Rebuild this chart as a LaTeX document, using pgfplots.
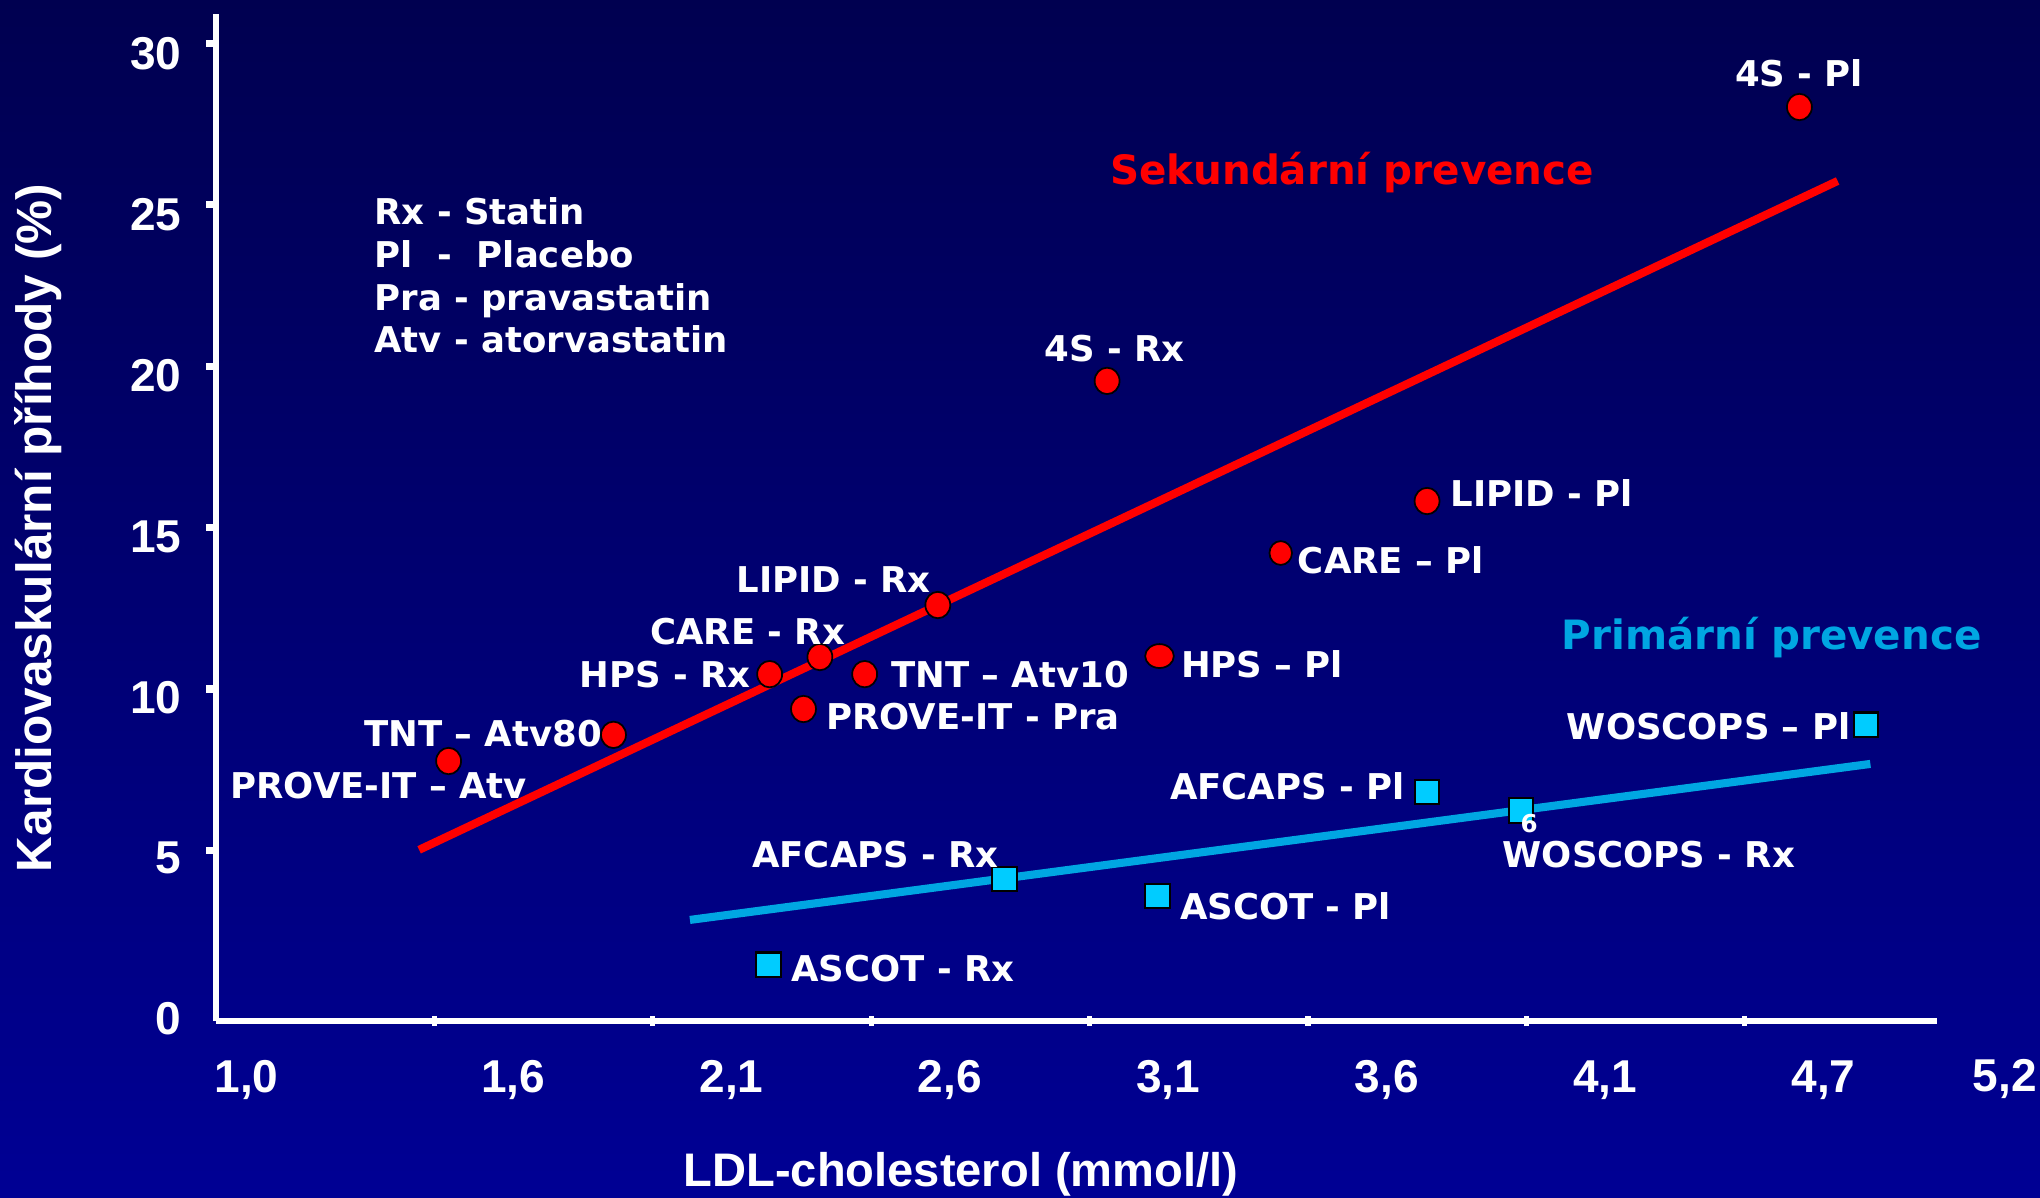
\documentclass[border=0pt]{standalone}
\usepackage{pgfplots}
\pgfplotsset{compat=1.18}
\usepackage{fontspec}
\setmainfont{DejaVu Sans}
\newfontfamily\axisfamily{Liberation Sans}
\usetikzlibrary{shadings}

\definecolor{bgtop}{RGB}{0,0,80}
\definecolor{bgbot}{RGB}{0,0,148}
\definecolor{secred}{RGB}{255,0,0}
\definecolor{primline}{RGB}{0,166,226}
\definecolor{primfill}{RGB}{0,204,255}

\newcommand{\axfont}{\axisfamily\bfseries\fontsize{13.1pt}{15.7pt}\selectfont}
\newcommand{\xlfont}{\axisfamily\bfseries\fontsize{13.4pt}{16pt}\selectfont}
\newcommand{\ylfont}{\axisfamily\bfseries\fontsize{14.1pt}{17pt}\selectfont}
\newcommand{\lbfont}{\bfseries\fontsize{10.1pt}{12.15pt}\selectfont}
\newcommand{\ttlfont}{\bfseries\fontsize{11.5pt}{13.8pt}\selectfont}
\newcommand{\smfont}{\bfseries\fontsize{7pt}{8pt}\selectfont}

% x: LDL in mg/dl (ticks every 20 mg/dl), labelled in mmol/l
% y: cardiovascular events in %
\pgfplotstableread{
x     y
61.3  7.77
76.4  8.58
90.7  10.46
95.3  10.99
93.8  9.38
99.4  10.46
106.1 12.60
121.6 19.54
185.0 28.02
150.9 15.82
}\secondary
\pgfplotstableread{
x     y
90.6  1.46
112.2 4.12
126.2 3.59
150.9 6.81
159.5 6.24
191.1 8.89
}\primary

\begin{document}
\begin{tikzpicture}
\fill[top color=bgtop, bottom color=bgbot] (0,0) rectangle (20.4cm,11.97cm);

\begin{axis}[
  at={(2.16cm,1.76cm)}, anchor=south west,
  scale only axis, width=17.21cm, height=10.07cm,
  xmin=40, xmax=197.6, ymin=-0.28, ymax=30.9,
  clip=false,
  axis x line=bottom, axis y line=left,
  axis line style={white, line width=1.6pt, -},
  xtick={42.8,67.2,87.2,107.2,127.2,147.2,167.2,187.2},
  xticklabels={{1,0},{1,6},{2,1},{2,6},{3,1},{3,6},{4,1},{4,7}},
  ytick={-0.22,4.76,9.74,14.72,19.70,24.68,29.66},
  yticklabels={0,5,10,15,20,25,30},
  major tick length=0pt,
  ticklabel style={font=\axfont, text=white},
  xticklabel style={anchor=base, yshift=-0.71cm},
  yticklabel style={anchor=east, inner sep=0pt, xshift=-0.34cm},
  extra x ticks={60,80,100,120,140,160,180}, extra x tick labels={},
  extra x tick style={major tick length=0.1cm, tick align=center,
    tick style={white, line width=1.5pt}},
  extra y ticks={5,10,15,20,25,30}, extra y tick labels={},
  extra y tick style={major tick length=0.1cm, tick align=outside,
    tick style={white, line width=2pt}},
  xlabel={LDL-cholesterol (mmol/l)},
  xlabel style={font=\xlfont, text=white, at={(axis description cs:0.4329,-0.164)}, anchor=base},
  ylabel={Kardiovaskulární příhody (\%)},
  ylabel style={font=\ylfont, text=white, at={(axis description cs:-0.0953,0.4896)}, anchor=base},
]
% trend lines
\addplot[secred, line width=2.3pt, no marks] coordinates {(58.6,5.02) (188.5,25.73)};
\addplot[primline, line width=2.3pt, no marks] coordinates {(83.4,2.85) (191.5,7.68)};
% secondary prevention trials
\addplot[only marks, mark=*, mark size=3.55pt,
  mark options={fill=secred, draw=black, line width=0.5pt, yscale=1.06}] table {\secondary};
\addplot[only marks, mark=*, mark size=3.2pt,
  mark options={fill=secred, draw=black, line width=0.5pt, yscale=1.06}] coordinates {(137.5,14.21)};
\addplot[only marks, mark=*, mark size=3.4pt,
  mark options={fill=secred, draw=black, line width=0.5pt, xscale=1.2}] coordinates {(126.4,11.02)};
% primary prevention trials
\addplot[only marks, mark=square*, mark size=3.5pt,
  mark options={fill=primfill, draw=black, line width=0.6pt}] table {\primary};
\end{axis}

\begin{scope}[x=0.01cm, y=-0.01cm, shift={(0,11.97cm)}, text=white,
  every node/.append style={inner sep=0pt}]
  \node[font=\axfont, anchor=base] at (2006,1092) {5,2};
  \node[font=\lbfont, anchor=base west, align=left] at (374,353)
    {Rx - Statin\\Pl~~-~~Placebo\\Pra - pravastatin\\Atv - atorvastatin};
  \node[font=\ttlfont, text=secred, anchor=base west] at (1110,185) {Sekundární prevence};
  \node[font=\ttlfont, text=primline, anchor=base west] at (1562,650) {Primární prevence};
  \node[font=\lbfont, anchor=base] at (1800,87) {4S - Pl};
  \node[font=\lbfont, anchor=base] at (1115,362) {4S - Rx};
  \node[font=\lbfont, anchor=base west] at (1451,507) {LIPID - Pl};
  \node[font=\lbfont, anchor=base west] at (1298,574) {CARE – Pl};
  \node[font=\lbfont, anchor=base east] at (932,593) {LIPID - Rx};
  \node[font=\lbfont, anchor=base west] at (650,645) {CARE - Rx};
  \node[font=\lbfont, anchor=base east] at (752,688) {HPS - Rx};
  \node[font=\lbfont, anchor=base west] at (891,688) {TNT – Atv10};
  \node[font=\lbfont, anchor=base west] at (826,730) {PROVE-IT - Pra};
  \node[font=\lbfont, anchor=base west] at (1181,678) {HPS – Pl};
  \node[font=\lbfont, anchor=base east] at (603,747) {TNT – Atv80};
  \node[font=\lbfont, anchor=base west] at (230,799) {PROVE-IT – Atv};
  \node[font=\lbfont, anchor=base east] at (1852,740) {WOSCOPS – Pl};
  \node[font=\lbfont, anchor=base east] at (1406,800) {AFCAPS - Pl};
  \node[font=\smfont, anchor=base] at (1530,833) {6};
  \node[font=\lbfont, anchor=base west] at (1503,868) {WOSCOPS - Rx};
  \node[font=\lbfont, anchor=base west] at (752,868) {AFCAPS - Rx};
  \node[font=\lbfont, anchor=base west] at (1180,920) {ASCOT - Pl};
  \node[font=\lbfont, anchor=base west] at (791,982) {ASCOT - Rx};
\end{scope}

\pgfresetboundingbox
\useasboundingbox (0,0) rectangle (20.4cm,11.97cm);
\end{tikzpicture}
\end{document}
